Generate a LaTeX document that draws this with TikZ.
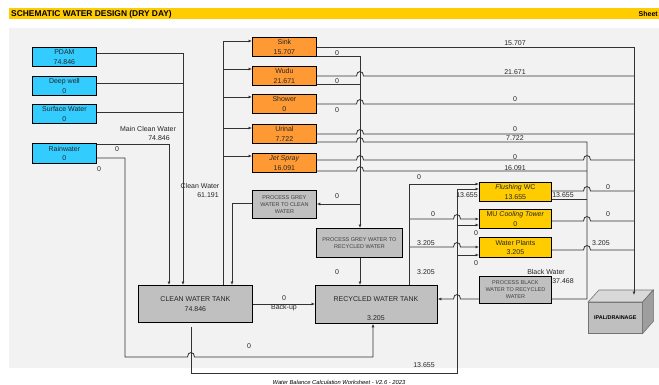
\documentclass[tikz,border=0pt]{standalone}
\usepackage{fontspec}
\setmainfont{Liberation Sans}
\usetikzlibrary{arrows.meta}
\definecolor{bluebox}{HTML}{33CCFF}
\definecolor{orangebox}{HTML}{FF9933}
\definecolor{yellowbox}{HTML}{FFCC00}
\definecolor{greybox}{HTML}{C0C0C0}
\definecolor{panel}{HTML}{F2F2F2}
\definecolor{wirecol}{HTML}{333333}
\begin{document}
\begin{tikzpicture}[x=1pt,y=-1pt,
  wire/.style={draw=wirecol,line width=0.8pt},
  arr/.style={-{Latex[length=3.5pt,width=3pt]}},
  hopat/.style args={#1/#2}{insert path={-- ({#1-3.5},#2) .. controls ({#1-3.5},{#2-6}) and ({#1+3.5},{#2-6}) .. ({#1+3.5},#2)}},
  hopleft/.style args={#1/#2}{insert path={-- ({#1+3.5},#2) .. controls ({#1+3.5},{#2-6}) and ({#1-3.5},{#2-6}) .. ({#1-3.5},#2)}},
  box/.style={draw=black,line width=0.8pt,anchor=north west,inner sep=0pt,align=center,text=black!85,font=\fontsize{7}{9.5}\selectfont},
  bluebx/.style={box,fill=bluebox,minimum width=64pt,minimum height=19pt},
  orangebx/.style={box,fill=orangebox,minimum width=64pt,minimum height=19.5pt},
  yellowbx/.style={box,fill=yellowbox,minimum width=72pt},
  procbx/.style={box,fill=greybox,text=black!75,font=\fontsize{5.5}{7}\selectfont},
  tankbx/.style={box,fill=greybox,font=\fontsize{7}{10}\selectfont},
  lbl/.style={inner sep=0pt,text=black!85,font=\fontsize{7}{8}\selectfont}
]
\useasboundingbox (0,0) rectangle (659,385);
\fill[white] (0,0) rectangle (659,385);
\fill[panel] (9,28) rectangle (659,368);
\fill[yellowbox] (9,8) rectangle (659,19);
\node[anchor=west,inner sep=0pt,font=\bfseries\fontsize{8.4}{9}\selectfont] (title) at (11,14) {SCHEMATIC WATER DESIGN (DRY DAY)};
\node[anchor=east,inner sep=0pt,font=\bfseries\fontsize{7}{8}\selectfont] (sheet) at (658,14) {Sheet};
\node[inner sep=0pt,font=\itshape\fontsize{5.8}{6}\selectfont] (footer) at (339,382) {Water Balance Calculation Worksheet - V2.6 - 2023};

% sources
\node[bluebx] (pdam) at (32,47) {PDAM\\74.846};
\node[bluebx] (deep) at (32,76) {Deep well\\0};
\node[bluebx] (surf) at (32,104) {Surface Water\\0};
\node[bluebx,minimum height=20pt] (rain) at (32,143) {Rainwater\\0};

% fixtures
\node[orangebx] (sink) at (252,37) {Sink\\15.707};
\node[orangebx] (wudu) at (252,66) {Wudu\\21.671};
\node[orangebx] (shower) at (252,94) {Shower\\0};
\node[orangebx] (urinal) at (252,124) {Urinal\\7.722};
\node[orangebx] (jet) at (252,153) {\textit{Jet Spray}\\16.091};

% processes
\node[procbx,minimum width=64pt,minimum height=28pt] (pgc) at (252,190) {PROCESS GREY\\WATER TO CLEAN\\WATER};
\node[procbx,minimum width=86pt,minimum height=29pt] (pgr) at (316,228) {PROCESS GREY WATER TO\\RECYCLED WATER};
\node[procbx,minimum width=72pt,minimum height=27pt] (pbw) at (479,276) {PROCESS BLACK\\WATER TO RECYCLED\\WATER};

% tanks
\node[tankbx,minimum width=114pt,minimum height=37pt] (cwt) at (138,285) {CLEAN WATER TANK\\74.846};
\node[tankbx,minimum width=122pt,minimum height=38pt] (rwt) at (315,285) {};
\node[lbl] (rwtname) at (376,299) {RECYCLED WATER TANK};
\node[lbl] (rwtval) at (376,318) {3.205};

% recycled users
\node[yellowbx,minimum height=19pt] (flush) at (479,182) {\textit{Flushing} WC\\13.655};
\node[yellowbx,minimum height=19pt] (cool) at (479,209) {MU \textit{Cooling Tower}\\0};
\node[yellowbx,minimum height=20pt] (plants) at (479,237) {Water Plants\\3.205};

% IPAL
\node[draw=black!55,fill=black!25,line width=0.6pt,minimum width=54pt,minimum height=31pt,anchor=north west,inner sep=0pt,font=\bfseries\fontsize{5.4}{6}\selectfont] (ipal) at (588,302) {IPAL/DRAINAGE};
\filldraw[fill=black!15,draw=black!55,line width=0.6pt] (ipal.north west) -- ++(11,-12) -- ++(54,0) -- (ipal.north east) -- cycle;
\filldraw[fill=black!38,draw=black!55,line width=0.6pt] (ipal.north east) -- ++(11,-12) -- ++(0,31) -- (ipal.south east) -- cycle;

% sources to clean tank
\draw[wire,arr] (pdam.east |- 0,53) -- (183,53) -- (cwt.north -| 183,0);
\draw[wire] (deep.east |- 0,83) -- (183,83);
\draw[wire] (surf.east |- 0,112) -- (183,112);
\draw[wire,arr] (rain.east |- 0,144) -- (169,144) -- (cwt.north -| 169,0);
\draw[wire,arr] (rain.east |- 0,158) -- (125,158) -- (125,357) [hopat=191/357] -- (373,357) -- (rwt.south -| 373,0);

% clean water distribution
\draw[wire,arr] (cwt.north -| 223,0) -- (223,41) -- (sink.west |- 0,41);
\draw[wire,arr] (223,69) -- (wudu.west |- 0,69);
\draw[wire,arr] (223,97) -- (shower.west |- 0,97);
\draw[wire,arr] (223,128) -- (urinal.west |- 0,128);
\draw[wire,arr] (223,156) -- (jet.west |- 0,156);
\draw[wire,arr] (cwt.east |- 0,304) -- (rwt.west |- 0,304);
\draw[wire,arr,shorten <=4pt] (cwt.south -| 191,0) -- (191,373) -- (457,373) -- (457,189) -- (flush.west |- 0,189);
\draw[wire,arr] (457,225) -- (cool.west |- 0,225);
\draw[wire,arr] (457,255) -- (plants.west |- 0,255);

% fixture outputs
\draw[wire,arr,shorten >=7pt] (sink.east |- 0,47) -- (634,47) -- (ipal.north -| 634,0);
\draw[wire,arr] (sink.east |- 0,56) -- (360,56) -- (pgr.north -| 360,0);
\draw[wire] (wudu.east |- 0,76) [hopat=360/76] -- (634,76);
\draw[wire] (wudu.east |- 0,84) -- (360,84);
\draw[wire] (shower.east |- 0,104) [hopat=360/104] -- (634,104);
\draw[wire] (urinal.east |- 0,134) [hopat=360/134] -- (634,134);
\draw[wire] (urinal.east |- 0,142) [hopat=360/142] -- (587,142) -- (587,299) -- (pbw.east |- 0,299);
\draw[wire] (jet.east |- 0,160) [hopat=360/160] [hopat=587/160] -- (634,160);
\draw[wire] (jet.east |- 0,171) [hopat=360/171] -- (587,171);

% grey water processing
\draw[wire,arr] (360,204) -- (pgc.east |- 0,204);
\draw[wire,arr] (pgc.west |- 0,203) -- (232,203) -- (cwt.north -| 232,0);
\draw[wire,arr] (pgr.south -| 360,0) -- (rwt.north -| 360,0);

% recycled distribution
\draw[wire,arr] (rwt.north -| 409,0) -- (409,184) -- (flush.west |- 0,184);
\draw[wire,arr] (409,219) [hopat=457/219] -- (cool.west |- 0,219);
\draw[wire,arr] (409,247) [hopat=457/247] -- (plants.west |- 0,247);

% recycled users outputs
\draw[wire] (flush.east |- 0,191) [hopat=587/191] -- (634,191);
\draw[wire] (flush.east |- 0,199) -- (587,199);
\draw[wire] (cool.east |- 0,221) [hopat=587/221] -- (634,221);
\draw[wire] (plants.east |- 0,250) [hopat=587/250] -- (634,250);

% black water
\draw[wire,arr] (pbw.west |- 0,299) [hopleft=457/299] -- (rwt.east |- 0,299);

% labels
\node[lbl] (l1) at (148,129) {Main Clean Water};
\node[lbl] (l2) at (159,138) {74.846};
\node[lbl] (l3) at (117,149) {0};
\node[lbl] (l4) at (99,169) {0};
\node[lbl] (l5) at (200,186) {Clean Water};
\node[lbl] (l6) at (208,195) {61.191};
\node[lbl] (l7) at (515,43) {15.707};
\node[lbl] (l8) at (337,53) {0};
\node[lbl] (l9) at (515,72) {21.671};
\node[lbl] (l10) at (337,81) {0};
\node[lbl] (l11) at (515,99) {0};
\node[lbl] (l12) at (337,110) {0};
\node[lbl] (l13) at (515,129) {0};
\node[lbl] (l14) at (515,138) {7.722};
\node[lbl] (l15) at (515,157) {0};
\node[lbl] (l16) at (515,168) {16.091};
\node[lbl] (l17) at (337,196) {0};
\node[lbl] (l18) at (337,272) {0};
\node[lbl] (l19) at (419,177) {0};
\node[lbl] (l20) at (467,195) {13.655};
\node[lbl] (l21) at (433,214) {0};
\node[lbl] (l22) at (476,233) {0};
\node[lbl] (l23) at (426,243) {3.205};
\node[lbl] (l24) at (476,263) {0};
\node[lbl] (l25) at (426,272) {3.205};
\node[lbl] (l26) at (546,272) {Black Water};
\node[lbl] (l27) at (563,281) {37.468};
\node[lbl] (l28) at (563,195) {13.655};
\node[lbl] (l29) at (608,187) {0};
\node[lbl] (l30) at (608,214) {0};
\node[lbl] (l31) at (601,243) {3.205};
\node[lbl] (l32) at (284,298) {0};
\node[lbl] (l33) at (284,308) {Back-up};
\node[lbl] (l34) at (249,346) {0};
\node[lbl] (l35) at (424,365) {13.655};
\end{tikzpicture}
\end{document}
